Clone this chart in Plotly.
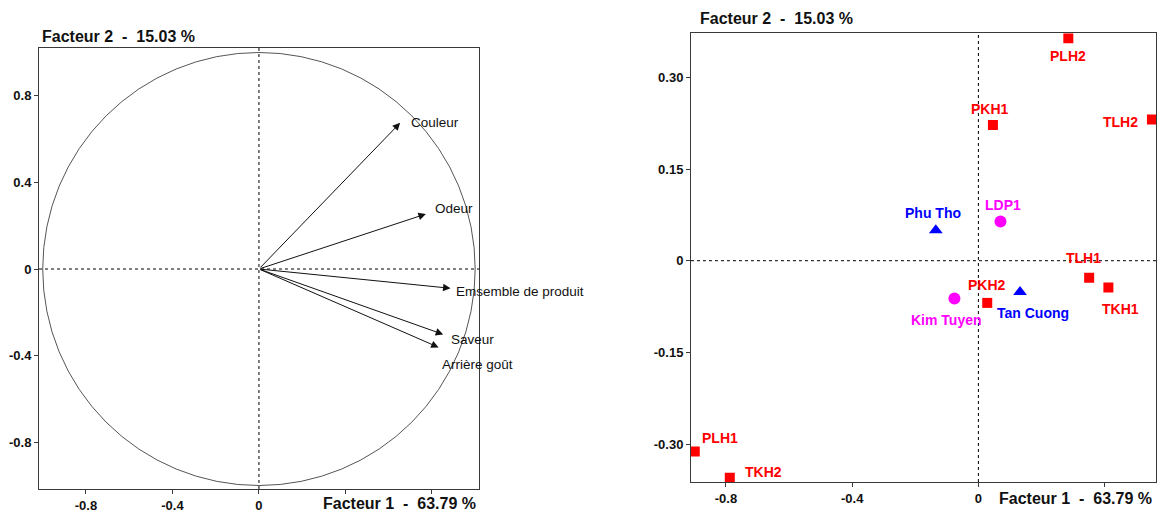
import plotly.graph_objects as go

# Correlation circle: variable loadings on factors 1 and 2
variables = ["Couleur", "Odeur", "Emsemble de produit", "Saveur", "Arrière goût"]
var_f1 = [0.653, 0.772, 0.886, 0.852, 0.831]
var_f2 = [0.675, 0.254, -0.089, -0.302, -0.362]

# Observation scores, grouped by marker family
samples = ["PLH2", "PKH1", "TLH2", "TLH1", "TKH1", "PKH2", "PLH1", "TKH2"]
samples_f1 = [0.285, 0.046, 0.550, 0.351, 0.412, 0.028, -0.899, -0.788]
samples_f2 = [0.364, 0.222, 0.231, -0.028, -0.044, -0.069, -0.312, -0.355]

regions = ["Phu Tho", "Tan Cuong"]
regions_f1 = [-0.135, 0.132]
regions_f2 = [0.050, -0.051]

varieties = ["LDP1", "Kim Tuyen"]
varieties_f1 = [0.070, -0.076]
varieties_f2 = [0.064, -0.062]

# Tick labels
left_x_ticks = [-0.8, -0.4, 0, 0.4, 0.8]
left_x_text = ["-0.8", "-0.4", "0", "", ""]
left_y_ticks = [-0.8, -0.4, 0, 0.4, 0.8]
left_y_text = ["-0.8", "-0.4", "0", "0.4", "0.8"]
right_x_ticks = [-0.8, -0.4, 0, 0.4]
right_x_text = ["-0.8", "-0.4", "0", ""]
right_y_ticks = [-0.30, -0.15, 0, 0.15, 0.30]
right_y_text = ["-0.30", "-0.15", "0", "0.15", "0.30"]

title_f1 = "Facteur 1 \u00a0-\u00a0 63.79 %"
title_f2 = "Facteur 2 \u00a0-\u00a0 15.03 %"

# Label placement (pixel offsets from each point)
var_label_shift = [(9, 0), (7, 6), (3, -3), (6, -5), (1, -17)]
sample_label_style = [
    ("center", 0, -18), ("center", -3, 16), ("right", -12, -3),
    ("center", -6, 20), ("center", 12, -21), ("center", 0, 18),
    ("left", 5, 13), ("left", 13, 6),
]
region_label_style = [("center", -3, 17), ("center", 13, -21)]
variety_label_style = [("center", 3, 17), ("center", -8, -21)]

RED, BLUE, MAGENTA = "#FF0000", "#0000FF", "#FF00FF"
ARIAL = "Liberation Sans, Arial"
FRAME = "#3a3a3a"

fig = go.Figure()

fig.add_trace(go.Scatter(
    x=samples_f1, y=samples_f2, xaxis="x2", yaxis="y2", mode="markers",
    marker=dict(symbol="square", size=10, color=RED), hoverinfo="skip",
))
fig.add_trace(go.Scatter(
    x=regions_f1, y=regions_f2, xaxis="x2", yaxis="y2", mode="markers",
    marker=dict(symbol="triangle-up", size=12, color=BLUE), hoverinfo="skip",
))
fig.add_trace(go.Scatter(
    x=varieties_f1, y=varieties_f2, xaxis="x2", yaxis="y2", mode="markers",
    marker=dict(symbol="circle", size=12, color=MAGENTA), hoverinfo="skip",
))

shapes = [
    # unit circle
    dict(type="circle", xref="x", yref="y", x0=-1, x1=1, y0=-1, y1=1,
         line=dict(color="#555555", width=1)),
]
for xr, yr in (("x", "y"), ("x2", "y2")):
    shapes.append(dict(type="line", xref=f"{xr} domain", yref=yr, x0=0, x1=1, y0=0, y1=0,
                       line=dict(color="black", width=1, dash="dot")))
    shapes.append(dict(type="line", xref=xr, yref=f"{yr} domain", x0=0, x1=0, y0=0, y1=1,
                       line=dict(color="black", width=1, dash="dot")))

annotations = []
# loading arrows and their labels
for name, fx, fy, (dx, dy) in zip(variables, var_f1, var_f2, var_label_shift):
    annotations.append(dict(
        x=fx, y=fy, xref="x", yref="y", ax=0, ay=0, axref="x", ayref="y",
        showarrow=True, arrowhead=2, arrowsize=1.5, arrowwidth=1, arrowcolor="#111111",
        text="",
    ))
    annotations.append(dict(
        x=fx, y=fy, xref="x", yref="y", text=name, showarrow=False,
        xanchor="left", yanchor="middle", xshift=dx, yshift=dy,
        font=dict(family=ARIAL, size=13.5, color="#111111"),
    ))


def point_labels(names, xs, ys, styles, color):
    for name, px, py, (anchor, dx, dy) in zip(names, xs, ys, styles):
        annotations.append(dict(
            x=px, y=py, xref="x2", yref="y2", text=name, showarrow=False,
            xanchor=anchor, yanchor="middle", xshift=dx, yshift=dy,
            font=dict(family=ARIAL, size=14, color=color, weight="bold"),
        ))


point_labels(samples, samples_f1, samples_f2, sample_label_style, RED)
point_labels(regions, regions_f1, regions_f2, region_label_style, BLUE)
point_labels(varieties, varieties_f1, varieties_f2, variety_label_style, MAGENTA)

# factor titles
title_font = dict(family=ARIAL, size=16, color="#111111", weight="bold")
annotations += [
    dict(x=0.0345, y=0.9285, xref="paper", yref="paper", text=title_f2, showarrow=False,
         xanchor="left", yanchor="middle", font=title_font),
    dict(x=0.413, y=0.018, xref="paper", yref="paper", text=title_f1, showarrow=False,
         xanchor="right", yanchor="middle", font=title_font),
    dict(x=0.6025, y=0.963, xref="paper", yref="paper", text=title_f2, showarrow=False,
         xanchor="left", yanchor="middle", font=title_font),
    dict(x=0.9965, y=0.0287, xref="paper", yref="paper", text=title_f1, showarrow=False,
         xanchor="right", yanchor="middle", font=title_font),
]

tick_font = dict(family=ARIAL, size=13, color="#111111", weight="bold")
axis_common = dict(
    showgrid=False, zeroline=False, showline=True, linecolor=FRAME, linewidth=1,
    mirror=True, ticks="outside", ticklen=4, tickcolor=FRAME, tickfont=tick_font,
    fixedrange=True,
)

fig.update_layout(
    width=1158, height=513,
    margin=dict(l=0, r=0, t=0, b=0),
    paper_bgcolor="white", plot_bgcolor="white",
    showlegend=False,
    xaxis=dict(domain=[0.0337, 0.4139], range=[-1.017, 1.019],
               tickmode="array", tickvals=left_x_ticks, ticktext=left_x_text,
               anchor="y", **axis_common),
    yaxis=dict(domain=[0.0468, 0.9074], range=[-1.016, 1.023],
               tickmode="array", tickvals=left_y_ticks, ticktext=left_y_text,
               anchor="x", **axis_common),
    xaxis2=dict(domain=[0.5967, 0.9983], range=[-0.911, 0.563],
                tickmode="array", tickvals=right_x_ticks, ticktext=right_x_text,
                anchor="y2", **axis_common),
    yaxis2=dict(domain=[0.0604, 0.9351], range=[-0.362, 0.372],
                tickmode="array", tickvals=right_y_ticks, ticktext=right_y_text,
                anchor="x2", **axis_common),
    shapes=shapes,
    annotations=annotations,
)

fig.write_html("out.html")
